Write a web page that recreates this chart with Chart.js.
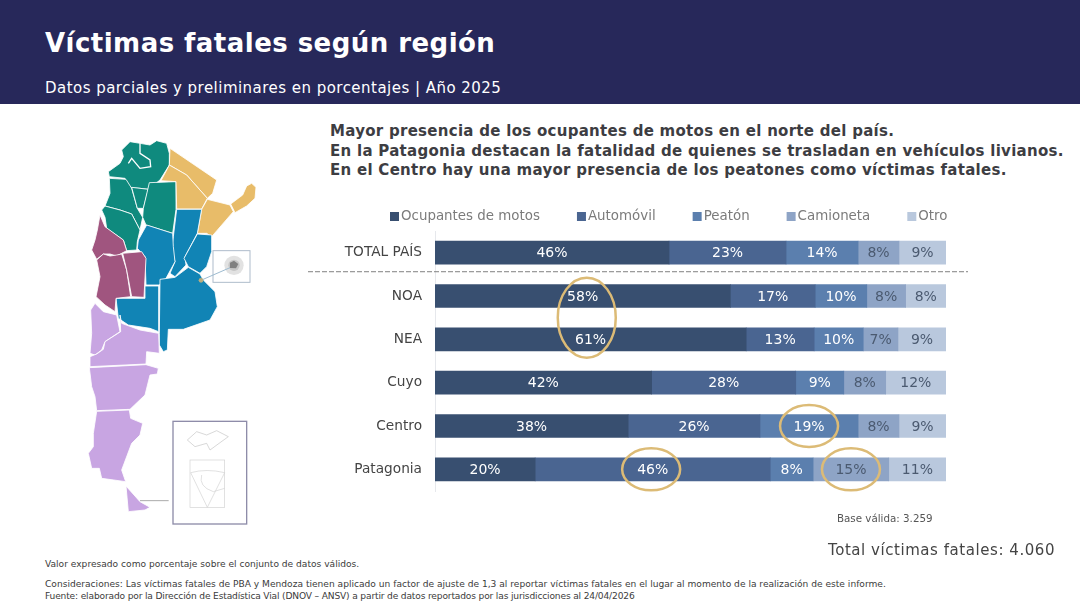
<!DOCTYPE html>
<html lang="es">
<head>
<meta charset="UTF-8" />
<title>Víctimas fatales según región</title>
<style>
  html, body { margin: 0; padding: 0; background: #fff; }
  body { width: 1080px; height: 605px; position: relative; overflow: hidden; font-family: "DejaVu Sans", sans-serif; }
  .banner { position: absolute; left: 0; top: 0; width: 1080px; height: 104px; background: #27285a; }
  .txt { position: absolute; white-space: nowrap; margin: 0; }
  h1.txt { left: 45px; top: 26px; font-size: 26px; line-height: 34px; font-weight: bold; color: #fff; letter-spacing: 0.46px; }
  .sub { left: 45px; top: 79px; font-size: 15px; line-height: 19px; color: #fff; letter-spacing: 0.47px; }
  .lead { left: 330px; top: 122px; font-size: 15px; line-height: 19.6px; font-weight: bold; color: #3d3d42; letter-spacing: 0.28px; }
  .base { left: 837px; top: 512px; font-size: 10.3px; line-height: 13px; color: #555; }
  .total { left: 828px; top: 541px; font-size: 15px; line-height: 19px; color: #444; letter-spacing: 0.55px; }
  .note { left: 45px; font-size: 9.1px; line-height: 12px; color: #3b3b3b; }
  #map { position: absolute; left: 60px; top: 130px; width: 210px; height: 400px; }
  #map polygon { stroke: #fff; stroke-width: 2.5; stroke-linejoin: round; }
  #wrap { position: absolute; left: 300px; top: 200px; width: 680px; height: 320px; }
</style>
</head>
<body>
<div class="banner"></div>
<h1 class="txt">Víctimas fatales según región</h1>
<p class="txt sub">Datos parciales y preliminares en porcentajes | Año 2025</p>
<p class="txt lead">Mayor presencia de los ocupantes de motos en el norte del país.<br>En la Patagonia destacan la fatalidad de quienes se trasladan en vehículos livianos.<br>En el Centro hay una mayor presencia de los peatones como víctimas fatales.</p>

<!-- mapa de regiones, trazado a mano -->
<svg id="map" viewBox="0 0 630 1200">
  <g fill="#0f8a7e">
    <polygon points="185,60 210,35 240,40 270,45 290,32 320,40 328,70 328,105 300,150 265,178 240,175 205,172 195,145 148,140 145,125 180,100 190,80"/>
    <polygon points="148,145 198,148 215,175 232,235 248,262 240,300 215,252 180,240 135,228 150,190"/>
    <polygon points="215,172 265,178 250,235 232,235"/>
    <polygon points="268,158 348,155 348,238 338,310 258,285 248,262 250,235"/>
    <polygon points="125,240 135,228 180,240 215,252 240,300 232,335 230,360 200,362 190,330 140,295 135,262"/>
  </g>
  <polyline points="240,40 240,70 270,90 272,110 240,115 215,85 205,100" fill="none" stroke="#fff" stroke-width="4"/>
  <g fill="#e8bc69">
    <polygon points="330,55 470,150 458,190 442,205 380,135 328,105"/>
    <polygon points="328,105 380,135 442,205 425,237 350,237 348,155 303,152"/>
    <polygon points="442,208 510,225 520,245 455,320 440,310 412,310 425,238"/>
    <polygon points="512,222 548,195 560,168 575,160 588,172 585,205 560,228 525,248"/>
  </g>
  <g fill="#1184b5">
    <polygon points="350,238 425,238 412,310 375,380 378,405 345,440 330,430 345,395 335,355 340,320"/>
    <polygon points="412,312 455,315 455,365 440,410 420,430 385,410 372,385"/>
    <polygon points="260,285 338,310 340,350 345,395 318,445 298,465 258,465 255,380 232,355 235,330"/>
    <polygon points="300,448 345,442 385,412 420,432 430,450 465,485 472,530 450,570 370,598 325,598 322,660 310,665 298,645 298,610"/>
    <polygon points="168,505 255,505 255,468 296,468 296,605 270,595 205,585 175,565"/>
  </g>
  <g fill="#a0557f">
    <polygon points="120,255 135,290 190,330 200,362 185,370 170,378 150,372 130,372 110,388 95,360 105,330 112,300"/>
    <polygon points="110,390 130,372 150,378 170,375 185,372 200,420 212,500 168,505 165,545 135,525 108,500 120,440"/>
    <polygon points="188,370 245,365 258,385 252,502 215,500 200,420"/>
  </g>
  <g fill="#c8a5e2" transform="translate(0,510)">
    <polygon points="105,10 130,35 170,45 180,95 135,125 125,150 105,165 90,160 95,100 92,30"/>
    <polygon points="180,45 185,70 240,90 296,100 298,160 260,155 258,192 90,200 90,170 110,162 130,148 135,125 182,95"/>
    <polygon points="88,203 258,194 295,205 292,222 270,225 255,285 210,328 110,332 105,290 95,260"/>
    <polygon points="110,334 208,330 212,355 248,370 240,405 215,430 185,510 197,545 125,535 118,505 95,505 85,460 100,440 100,400"/>
    <polygon points="198,558 240,605 270,622 255,630 205,635"/>
  </g>
  <rect x="459" y="362" width="111" height="95" fill="#fff" stroke="#aebccb" stroke-width="3"/>
  <circle cx="522" cy="406" r="29" fill="#e2e2e2"/>
  <circle cx="522" cy="406" r="17" fill="#c6c6c6"/>
  <polygon points="510,398 522,392 535,402 528,415 510,414" style="fill:#808080;stroke:none"/>
  <line x1="425" y1="450" x2="510" y2="413" stroke="#9dbbd0" stroke-width="3"/>
  <circle cx="423" cy="451" r="7" fill="#b9ad7f"/>
  <g transform="translate(0,510)" fill="none">
    <rect x="339" y="364" width="221" height="308" stroke="#8e8ca9" stroke-width="4" fill="#fff"/>
    <line x1="240" y1="602" x2="326" y2="602" stroke="#aaa" stroke-width="3"/>
    <path d="M382,420 L410,395 L440,405 L470,392 L505,410 L480,428 L450,450 L440,430 L405,440 Z" stroke="#c4c4c4" stroke-width="2"/>
    <rect x="390" y="480" width="104" height="142" stroke="#d2d2d2" stroke-width="2"/>
    <path d="M392,518 Q440,505 494,518 L442,622 Z M425,525 Q415,560 460,575 L494,565" stroke="#d2d2d2" stroke-width="2"/>
  </g>
</svg>

<div id="wrap"><canvas id="regiones"></canvas></div>

<p class="txt base">Base válida: 3.259</p>
<p class="txt total">Total víctimas fatales: 4.060</p>
<p class="txt note" style="top:558px">Valor expresado como porcentaje sobre el conjunto de datos válidos.</p>
<p class="txt note" style="top:578px">Consideraciones: Las víctimas fatales de PBA y Mendoza tienen aplicado un factor de ajuste de 1,3 al reportar víctimas fatales en el lugar al momento de la realización de este informe.</p>
<p class="txt note" style="top:590px;letter-spacing:-0.16px">Fuente: elaborado por la Dirección de Estadística Vial (DNOV – ANSV) a partir de datos reportados por las jurisdicciones al 24/04/2026</p>

<script src="https://cdn.jsdelivr.net/npm/chart.js"></script>
<script>
  const regiones = ['TOTAL PAÍS', 'NOA', 'NEA', 'Cuyo', 'Centro', 'Patagonia'];
  const motos      = [45.8, 57.8, 60.9, 42.4, 37.8, 19.6];
  const automovil  = [22.9, 16.6, 13.3, 28.2, 25.8, 46.0];
  const peaton     = [14.1, 10.1,  9.6,  9.4, 19.2,  8.4];
  const camioneta  = [ 8.0,  7.6,  6.8,  8.2,  8.0, 14.8];
  const otro       = [ 9.2,  7.9,  9.4, 11.8,  9.2, 11.2];

  Chart.defaults.font.family = '"DejaVu Sans", sans-serif';

  function serie(label, data, color, textColor) {
    return { label: label, data: data, backgroundColor: color, textColor: textColor, barThickness: 23 };
  }

  // porcentajes dentro de cada tramo
  const etiquetas = {
    id: 'etiquetas',
    afterDatasetsDraw(chart) {
      const ctx = chart.ctx;
      ctx.save();
      ctx.font = '14px "DejaVu Sans"';
      ctx.textAlign = 'center';
      ctx.textBaseline = 'middle';
      chart.data.datasets.forEach((ds, i) => {
        ctx.fillStyle = ds.textColor;
        chart.getDatasetMeta(i).data.forEach((bar, j) => {
          ctx.fillText(Math.round(ds.data[j]) + '%', (bar.x + bar.base) / 2, bar.y + 1);
        });
      });
      ctx.restore();
    }
  };

  // leyenda propia: la caja queda pegada al texto como en el original
  const leyenda = {
    id: 'leyenda',
    afterDraw(chart) {
      const ctx = chart.ctx;
      let x = 90;
      ctx.save();
      ctx.font = '13.4px "DejaVu Sans"';
      ctx.textBaseline = 'middle';
      chart.data.datasets.forEach(ds => {
        ctx.fillStyle = ds.backgroundColor;
        ctx.fillRect(x, 12, 9, 9);
        ctx.fillStyle = '#7b7b7b';
        ctx.fillText(ds.label, x + 11, 17);
        x += 11 + ctx.measureText(ds.label).width + 37;
      });
      ctx.restore();
    }
  };

  // linea punteada bajo el total y elipses de resaltado
  const resaltados = [
    { x: 29.7, y: 1.5, rx: 29, ry: 40 },
    { x: 73.2, y: 4, rx: 29, ry: 21 },
    { x: 42.3, y: 5, rx: 29, ry: 21 },
    { x: 81.4, y: 5, rx: 29, ry: 21 }
  ];
  const marcas = {
    id: 'marcas',
    afterDraw(chart) {
      const ctx = chart.ctx, xs = chart.scales.x, ys = chart.scales.y;
      ctx.save();
      ctx.strokeStyle = '#808080';
      ctx.lineWidth = 1;
      ctx.setLineDash([5, 2]);
      ctx.beginPath();
      ctx.moveTo(8, ys.getPixelForValue(0.44));
      ctx.lineTo(668, ys.getPixelForValue(0.44));
      ctx.stroke();
      ctx.setLineDash([]);
      ctx.strokeStyle = '#dcbb76';
      ctx.lineWidth = 2.5;
      resaltados.forEach(e => {
        ctx.beginPath();
        ctx.ellipse(xs.getPixelForValue(e.x), ys.getPixelForValue(e.y), e.rx, e.ry, 0, 0, Math.PI * 2);
        ctx.stroke();
      });
      ctx.restore();
    }
  };

  new Chart(document.getElementById('regiones'), {
    type: 'bar',
    data: {
      labels: regiones,
      datasets: [
        serie('Ocupantes de motos', motos, '#384f70', '#fff'),
        serie('Automóvil', automovil, '#4a6591', '#fff'),
        serie('Peatón', peaton, '#5b7fae', '#fff'),
        serie('Camioneta', camioneta, '#8ea4c6', '#4b5a70'),
        serie('Otro', otro, '#b9c8dd', '#4b5a70')
      ]
    },
    options: {
      indexAxis: 'y',
      responsive: true,
      maintainAspectRatio: false,
      animation: false,
      layout: { padding: { right: 34, bottom: 29, top: 31 } },
      plugins: {
        tooltip: { enabled: false },
        legend: { display: false }
      },
      scales: {
        x: { stacked: true, min: 0, max: 100, display: false },
        y: {
          stacked: true,
          grid: { display: false, drawTicks: false },
          border: { color: '#e6e8ec' },
          ticks: { color: '#444', padding: 13, font: { size: 13.7 } },
          afterFit(scale) { scale.width = 135; }
        }
      }
    },
    plugins: [etiquetas, leyenda, marcas]
  });
</script>
</body>
</html>
